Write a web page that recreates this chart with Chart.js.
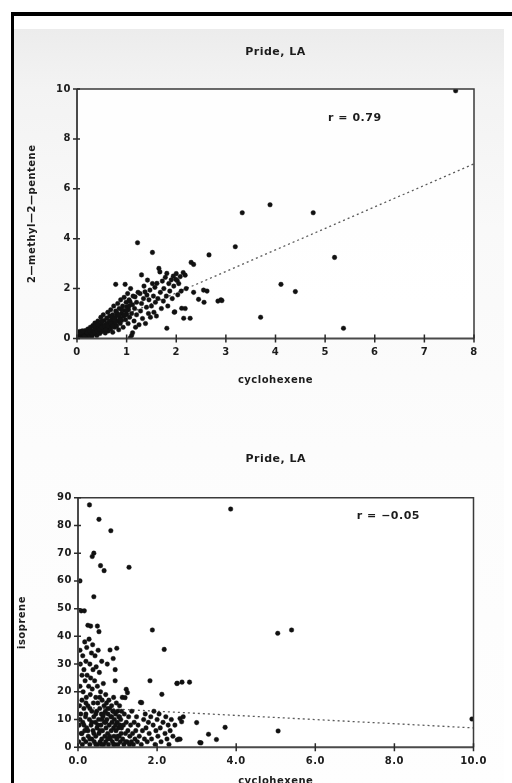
<!DOCTYPE html>
<html>
<head>
<meta charset="utf-8">
<script src="https://cdn.jsdelivr.net/npm/chart.js@4.4.1/dist/chart.umd.min.js"></script>
<style>
  html, body { margin: 0; padding: 0; background: #fff; }
  body { width: 512px; height: 783px; overflow: hidden; position: relative; }
  .paper { position: absolute; left: 14px; top: 29px; width: 490px; height: 760px;
    background: linear-gradient(to bottom, #ececec 0px, #f3f3f3 60px, #f9f9f9 200px, #fcfcfc 420px, #fefefe 100%); }
  .frame { position: absolute; left: 11px; top: 12px; width: 520px; height: 800px;
    border-top: 4px solid #000; border-left: 3px solid #000; }
  canvas { position: absolute; left: 0; display: block; }
  #c1 { top: 0px; }
  #c2 { top: 392px; }
</style>
</head>
<body>
<div class="paper"></div>
<div class="frame"></div>
<canvas id="c1" width="512" height="392"></canvas>
<canvas id="c2" width="512" height="395"></canvas>
<script>
// ---------- DATA ----------
const chartTitle = 'Pride, LA';
const xAxisLabel = 'cyclohexene';
const topYAxisLabel = '2\u2014methyl\u20142\u2014pentene';
const bottomYAxisLabel = 'isoprene';
const topCorrelation = 'r = 0.79';
const bottomCorrelation = 'r = \u22120.05';

// top panel: [cyclohexene, 2-methyl-2-pentene]
const pointsMethylPentene = [
  [0.02,0.05],[0.04,0.12],[0.05,0.28],[0.06,0.02],[0.08,0.18],[0.1,0.08],[0.1,0.3],[0.12,0.15],[0.14,0.04],[0.15,0.22],
  [0.17,0.32],[0.18,0.1],[0.2,0.18],[0.21,0.05],[0.22,0.38],[0.24,0.26],[0.25,0.12],[0.27,0.45],[0.28,0.2],[0.3,0.3],[0.3,0.08],
  [0.32,0.52],[0.33,0.18],[0.35,0.38],[0.36,0.62],[0.38,0.25],[0.4,0.45],[0.4,0.12],[0.42,0.7],[0.43,0.32],[0.45,0.55],
  [0.46,0.2],[0.48,0.4],[0.48,0.85],[0.5,0.62],[0.5,0.28],[0.52,0.48],[0.53,0.95],[0.55,0.35],[0.55,0.72],[0.57,0.22],
  [0.58,0.55],[0.6,0.82],[0.6,0.4],
  [0.62,1.05],[0.63,0.3],[0.64,0.62],[0.65,0.48],[0.66,0.9],[0.68,0.38],[0.68,1.15],[0.7,0.7],[0.7,0.55],[0.72,0.25],
  [0.72,0.95],[0.74,1.3],[0.75,0.62],[0.76,0.45],[0.77,0.82],[0.78,1.1],[0.78,2.17],[0.8,0.5],[0.8,0.94],[0.82,1.4],
  [0.82,0.7],[0.84,0.35],[0.85,1.2],[0.86,0.85],[0.87,0.6],[0.88,1.55],[0.9,1.0],[0.9,0.72],
  [0.92,1.3],[0.93,0.45],[0.94,0.88],[0.95,1.65],[0.96,1.12],[0.97,2.17],[0.98,0.75],[0.99,1.45],[1.0,1.27],[1.0,0.95],
  [1.02,1.8],[1.03,0.6],[1.04,1.15],[1.05,1.55],[1.06,0.85],[1.07,0.02],[1.07,1.47],[1.08,2.0],[1.1,1.0],[1.1,0.12],
  [1.12,1.35],[1.12,0.23],[1.13,1.7],[1.15,0.7],[1.16,1.2],[1.17,1.67],[1.18,0.45],[1.2,1.45],[1.2,0.95],
  [1.22,3.84],[1.23,1.85],[1.25,0.55],[1.27,1.8],[1.28,1.1],[1.3,2.55],[1.3,1.4],[1.32,0.8],[1.34,1.6],[1.35,2.1],
  [1.37,1.87],[1.38,0.6],[1.4,1.25],[1.41,1.74],[1.42,2.34],[1.44,1.0],[1.45,1.55],[1.47,1.94],[1.48,0.85],[1.5,1.3],
  [1.52,3.45],[1.52,2.2],[1.54,1.7],[1.55,1.05],[1.57,2.05],[1.58,1.45],[1.6,0.9],
  [1.61,2.21],[1.63,1.6],[1.65,2.81],[1.67,2.67],[1.68,1.85],[1.7,1.2],[1.72,2.3],[1.74,1.5],[1.75,2.0],[1.78,2.45],
  [1.8,1.7],[1.81,2.61],[1.81,0.41],[1.83,1.3],[1.85,2.2],[1.87,1.9],[1.9,2.35],[1.92,1.6],[1.94,2.5],[1.95,2.1],
  [1.96,1.05],[1.97,1.07],[1.99,2.37],[2.0,2.6],[2.02,2.32],[2.03,1.75],[2.05,2.2],[2.08,2.48],[2.1,1.9],
  [2.11,1.21],[2.14,2.64],[2.15,0.81],[2.18,2.54],[2.18,1.2],[2.2,2.0],[2.28,0.81],[2.3,3.05],[2.35,2.97],[2.35,1.85],
  [2.45,1.57],[2.55,1.94],[2.56,1.45],[2.62,1.9],[2.66,3.35],[2.84,1.5],[2.9,1.55],[2.92,1.52],[3.19,3.68],[3.33,5.04],
  [3.7,0.85],[3.89,5.36],[4.11,2.17],[4.4,1.88],[4.76,5.04],[5.19,3.25],[5.37,0.41],[7.63,9.93],
  [0.15,0.1],[0.2,0.25],[0.25,0.3],[0.3,0.2],[0.35,0.25],[0.35,0.5],[0.4,0.3],[0.42,0.55],[0.45,0.35],[0.5,0.45],
  [0.5,0.7],[0.55,0.5],[0.58,0.35],[0.6,0.6],[0.62,0.5],[0.65,0.7],[0.68,0.6],[0.7,0.85],[0.72,0.5],[0.75,0.8],
  [0.78,0.65],[0.8,1.05],[0.85,0.95],[0.88,0.75],[0.9,1.15],[0.95,0.95],[1.0,1.1],[1.05,1.3],[0.08,0.25],[0.12,0.3]
];
const trendMethylPentene = [[0,0.1],[8,7.0]];
const topXTicks = { min: 0, max: 8, step: 1 };
const topYTicks = { min: 0, max: 10, step: 2 };

// bottom panel: [cyclohexene, isoprene]
const pointsIsoprene = [
  [0.02,2],[0.03,8],[0.04,15],[0.05,22],[0.05,35],[0.06,30],[0.07,12],[0.08,5],[0.08,49.2],[0.05,60],[0.1,26],[0.1,17],
  [0.11,1],[0.12,33],[0.12,9],[0.13,20],[0.14,3],[0.15,28],[0.15,14],[0.16,49.2],[0.17,38],[0.17,6],[0.18,24],[0.19,11],
  [0.2,31],[0.2,2],[0.21,18],[0.22,36],[0.22,7],[0.23,26],
  [0.25,44],[0.25,15],[0.26,4],[0.27,22],[0.28,39],[0.29,87.4],[0.29,10],[0.3,30],[0.3,1],[0.31,19],[0.32,43.7],[0.32,25],
  [0.33,8],[0.34,34],[0.35,13],[0.35,3],[0.36,68.8],[0.36,21],[0.37,37],[0.38,6],[0.38,28],[0.39,16],[0.4,70],[0.4,54.3],
  [0.4,11],[0.41,2],[0.42,24],[0.43,33],[0.44,9],[0.45,18],[0.45,4],[0.46,29],[0.47,13],[0.48,7],[0.49,43.7],[0.49,22],
  [0.5,1],[0.5,16],
  [0.51,35],[0.52,10],[0.53,41.7],[0.53,82.2],[0.53,5],[0.54,27],[0.55,14],[0.56,2],[0.57,65.5],[0.57,20],[0.58,8],[0.59,12],
  [0.6,31],[0.6,3],[0.61,17],[0.62,6],[0.63,11],[0.64,23],[0.65,1],[0.66,63.7],[0.66,15],[0.67,9],[0.68,4],[0.69,13],
  [0.7,19],[0.7,2],[0.71,7],[0.72,16],[0.73,10],[0.74,30],[0.75,5],[0.76,12],[0.77,1],[0.78,17],[0.79,8],[0.8,14],
  [0.81,35.1],[0.82,3],[0.83,78.1],[0.83,11],[0.84,6],[0.85,15],[0.86,9],[0.87,2],[0.88,13],[0.89,32],[0.9,7],[0.9,18],
  [0.91,4],[0.92,10],[0.93,1],[0.94,28],[0.94,24],[0.95,12],[0.96,6],[0.97,16],[0.98,35.7],[0.98,3],[0.99,9],[1.0,13],
  [1.01,1],[1.02,7],[1.03,11],[1.04,4],[1.05,15],[1.06,8],[1.07,2],[1.08,10],[1.09,5],[1.1,13],
  [1.12,18],[1.13,3],[1.15,8],[1.16,1],[1.17,12],[1.19,17.9],[1.2,5],[1.22,20.9],[1.22,9],[1.24,2],[1.25,19.7],[1.26,6],
  [1.28,11],[1.29,64.9],[1.3,1],[1.31,4],[1.33,8],[1.35,2],[1.36,13],[1.38,5],[1.4,1],[1.42,9],[1.44,3],[1.46,6],[1.48,11],[1.5,2],
  [1.52,8],[1.55,4],[1.58,16.2],[1.6,1],[1.61,16.1],[1.63,6],[1.66,10],[1.68,3],[1.7,12],[1.72,7],[1.75,2],[1.78,9],[1.8,5],
  [1.82,24],[1.84,11],[1.86,3],[1.88,42.3],[1.9,8],[1.92,13],[1.95,1],[1.97,6],[2.0,10],[2.02,4],[2.05,12],[2.08,7],[2.1,2],
  [2.12,19.1],[2.15,9],[2.18,35.3],[2.2,5],
  [2.22,11],[2.25,3],[2.28,8],[2.3,1],[2.33,6],[2.36,10],[2.4,4],[2.45,8],[2.5,23],[2.51,2.7],[2.51,23.1],[2.55,3],
  [2.58,10.4],[2.58,2.9],[2.62,9.2],[2.63,23.5],[2.66,11],[2.82,23.5],[3.0,8.9],[3.08,1.7],[3.11,1.6],[3.3,4.7],[3.5,2.8],
  [3.72,7.2],[3.86,85.9],[5.05,41.1],[5.06,5.9],[5.4,42.3],[9.96,10.2],
  [0.05,10],[0.1,5],[0.15,8],[0.2,12],[0.25,6],[0.3,14],[0.35,9],[0.4,5],[0.45,12],[0.5,8],[0.55,6],[0.6,10],[0.65,12],
  [0.7,9],[0.75,14],[0.8,4],[0.85,11],[0.9,13],[0.95,8],[1.0,4],[1.05,11],[0.3,3],[0.45,1],[0.6,1],[0.75,3],[0.9,1],
  [1.1,7],[1.2,2],[0.2,16],[0.55,18]
];
const trendIsoprene = [[0,14.5],[10,7.0]];
const bottomXTicks = { min: 0, max: 10, step: 2 };
const bottomYTicks = { min: 0, max: 90, step: 10 };

// ---------- STYLE ----------
const FONT = "'DejaVu Sans', 'Liberation Sans', sans-serif";
const INK = '#1c1c1c';

const framePlugin = {
  id: 'frame',
  beforeDraw(chart) {
    const ctx = chart.ctx;
    if ('letterSpacing' in ctx) ctx.letterSpacing = '0.5px';
    const a = chart.chartArea;
    ctx.save();
    ctx.fillStyle = 'rgba(255,255,255,0.85)';
    ctx.fillRect(a.left, a.top, a.right - a.left, a.bottom - a.top);
    ctx.restore();
  },
  afterDraw(chart, args, opts) {
    const ctx = chart.ctx;
    const a = chart.chartArea;
    const xs = chart.scales.x, ys = chart.scales.y;
    ctx.save();
    ctx.strokeStyle = '#3a3a3a'; ctx.lineWidth = 1.5;
    ctx.beginPath();
    ctx.moveTo(a.left, a.top); ctx.lineTo(a.right, a.top); ctx.lineTo(a.right, a.bottom);
    ctx.stroke();
    ctx.strokeStyle = '#4a4a4a'; ctx.lineWidth = 2;
    ctx.beginPath();
    ctx.moveTo(a.left, a.top); ctx.lineTo(a.left, a.bottom); ctx.lineTo(a.right, a.bottom);
    ctx.stroke();
    ctx.strokeStyle = '#2a2a2a'; ctx.lineWidth = 1.5;
    ctx.beginPath();
    xs.ticks.forEach(t => {
      const px = xs.getPixelForValue(t.value);
      ctx.moveTo(px, a.bottom - 4); ctx.lineTo(px, a.bottom + 4);
    });
    ys.ticks.forEach(t => {
      const py = ys.getPixelForValue(t.value);
      ctx.moveTo(a.left - 4, py); ctx.lineTo(a.left + 3, py);
    });
    ctx.stroke();
    ctx.fillStyle = INK;
    ctx.font = 'bold 11px ' + FONT;
    ctx.textAlign = 'center'; ctx.textBaseline = 'middle';
    ctx.fillText(opts.title, (a.left + a.right) / 2, a.top - opts.titleGap);
    ctx.textAlign = 'left';
    ctx.fillText(opts.note, xs.getPixelForValue(opts.noteAt[0]), ys.getPixelForValue(opts.noteAt[1]));
    ctx.restore();
  }
};

function toXY(arr) { return arr.map(p => ({ x: p[0], y: p[1] })); }

function makeChart(id, c) {
  const tickFont = { family: FONT, size: 10, weight: 'bold', lineHeight: 1 };
  const titleFont = { family: FONT, size: 10, weight: 'bold', lineHeight: 1 };
  return new Chart(document.getElementById(id), {
    type: 'scatter',
    data: {
      datasets: [
        { data: toXY(c.points), pointRadius: 2.3, pointHoverRadius: 2.3,
          pointBackgroundColor: '#111', pointBorderColor: '#111', pointBorderWidth: 0.4 },
        { type: 'line', data: toXY(c.trend), showLine: true, fill: false,
          borderColor: '#5a5a5a', borderWidth: 1.3, borderDash: [2, 3], pointRadius: 0 }
      ]
    },
    options: {
      responsive: false, animation: false, devicePixelRatio: 1,
      layout: { padding: { top: c.padTop, right: c.padRight, left: 0, bottom: 0 } },
      plugins: {
        legend: { display: false }, tooltip: { enabled: false },
        frame: { title: chartTitle, titleGap: c.titleGap, note: c.note, noteAt: c.noteAt }
      },
      scales: {
        x: {
          type: 'linear', position: 'bottom', min: c.xt.min, max: c.xt.max,
          grid: { display: false, drawTicks: false }, border: { display: false },
          ticks: { stepSize: c.xt.step, padding: c.xPad, maxRotation: 0, autoSkip: false,
                   color: INK, font: tickFont, callback: c.xFmt },
          title: { display: true, text: xAxisLabel, color: INK, font: titleFont,
                   padding: { top: 0, bottom: c.xTitlePad } },
          afterFit(s) { s.height = c.xAxisH; }
        },
        y: {
          type: 'linear', position: 'left', min: c.yt.min, max: c.yt.max,
          grid: { display: false, drawTicks: false }, border: { display: false },
          ticks: { stepSize: c.yt.step, padding: 6, color: INK, font: tickFont, autoSkip: false },
          title: { display: true, text: c.yLabel, color: INK, font: titleFont,
                   padding: { top: c.yTitlePad, bottom: 0 } },
          afterFit(s) { s.width = c.yAxisW; }
        }
      }
    },
    plugins: [framePlugin]
  });
}

makeChart('c1', {
  points: pointsMethylPentene, trend: trendMethylPentene, xt: topXTicks, yt: topYTicks,
  yLabel: topYAxisLabel, note: topCorrelation, noteAt: [5.06, 8.84],
  padTop: 89, padRight: 38, titleGap: 37, xAxisH: 53.5, xPad: 9, xTitlePad: 7,
  yAxisW: 77, yTitlePad: 27, xFmt: v => String(v)
});

makeChart('c2', {
  points: pointsIsoprene, trend: trendIsoprene, xt: bottomXTicks, yt: bottomYTicks,
  yLabel: bottomYAxisLabel, note: bottomCorrelation, noteAt: [7.05, 83.2],
  padTop: 105.7, padRight: 38.5, titleGap: 38.7, xAxisH: 39.7, xPad: 8.7, xTitlePad: 1,
  yAxisW: 78, yTitlePad: 17, xFmt: v => Number(v).toFixed(1)
});
</script>
</body>
</html>
